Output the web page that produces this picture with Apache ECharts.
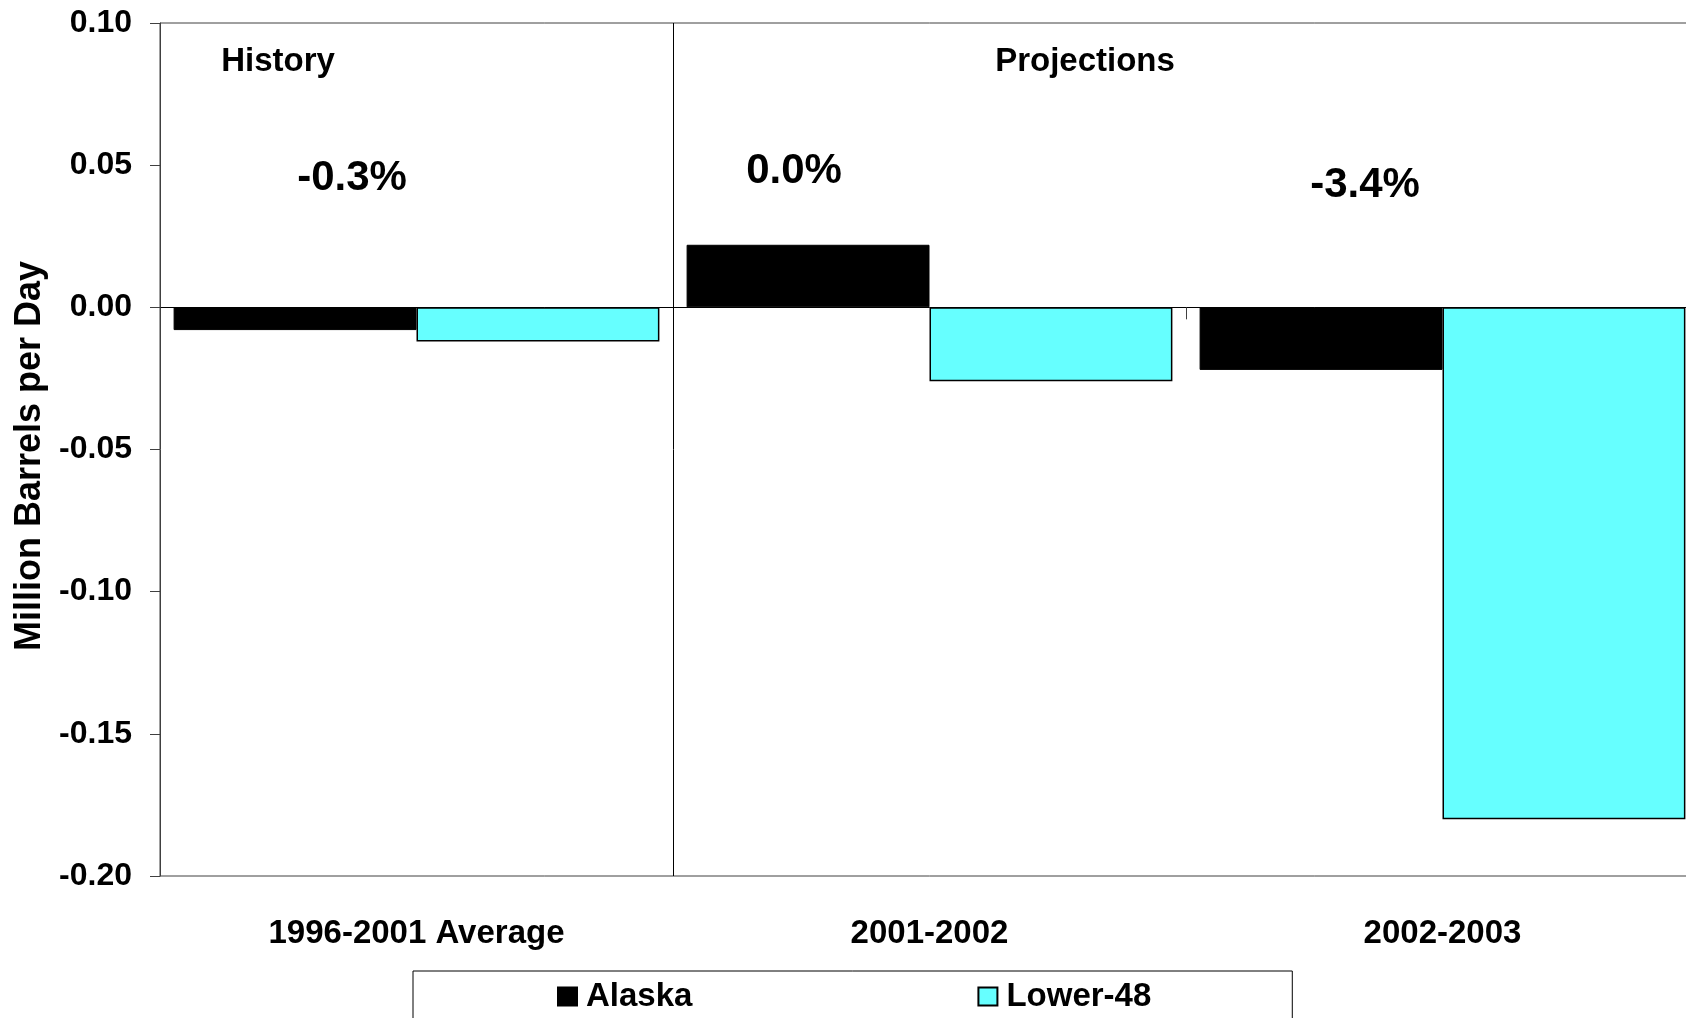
<!DOCTYPE html>
<html>
<head>
<meta charset="utf-8">
<title>Alaska and Lower-48 Crude Oil Production Change</title>
<script src="https://cdn.jsdelivr.net/npm/echarts@6/dist/echarts.min.js"></script>
<style>
  html, body { margin: 0; padding: 0; background: #ffffff; overflow: hidden; }
  /* the plot runs slightly past the right edge of the window */
  #chart { width: 1700px; height: 1018px; }
</style>
</head>
<body>
<div id="chart"></div>
<script>
// Annual change in crude oil production, million barrels per day
var categories = ['1996-2001 Average', '2001-2002', '2002-2003'];
var alaska = [-0.008, 0.022, -0.022];
var lower48 = [-0.012, -0.026, -0.18];
var growthLabels = ['-0.3%', '0.0%', '-3.4%'];
var periodLabels = ['History', 'Projections'];
// boundary between the history period and the projections (in category units)
var periodBreak = 1;

var FONT = "'Liberation Sans', Arial, Helvetica, sans-serif";
var AXIS_COLOR = '#404040';

var chart = echarts.init(document.getElementById('chart'), null, { renderer: 'canvas' });

// Annotation placements (pixel centres)
var growthPos = [[352, 178], [794, 171], [1365, 185]];
var periodPos = [[278, 62], [1085, 62]];

var graphics = [];
growthLabels.forEach(function (t, i) {
  graphics.push({
    type: 'text', x: growthPos[i][0], y: growthPos[i][1], z: 10,
    style: { text: t, font: 'bold 42px ' + FONT, fill: '#000', align: 'center', verticalAlign: 'middle' }
  });
});
periodLabels.forEach(function (t, i) {
  graphics.push({
    type: 'text', x: periodPos[i][0], y: periodPos[i][1], z: 10,
    style: { text: t, font: 'bold 33px ' + FONT, fill: '#000', align: 'center', verticalAlign: 'middle' }
  });
});

var option = {
  backgroundColor: '#ffffff',
  animation: false,
  textStyle: { fontFamily: FONT },
  grid: {
    left: 160, top: 23, width: 1539, height: 853,
    show: true, borderColor: AXIS_COLOR, borderWidth: 1, backgroundColor: 'transparent'
  },
  legend: {
    left: 413, top: 971,
    padding: [9, 141, 40, 144],
    itemGap: 285,
    itemWidth: 19, itemHeight: 18,
    icon: 'rect',
    borderColor: '#000', borderWidth: 1,
    textStyle: { fontFamily: FONT, fontWeight: 'bold', fontSize: 33, color: '#000', padding: [0, 0, 0, 4] },
    data: ['Alaska', 'Lower-48']
  },
  xAxis: [
    {
      // category labels along the bottom
      type: 'category', data: categories, position: 'bottom',
      axisLine: { show: false, onZero: false },
      axisTick: { show: false },
      axisLabel: { margin: 41, fontFamily: FONT, fontWeight: 'bold', fontSize: 33, color: '#000', interval: 0 },
      splitLine: { show: false }
    },
    {
      // zero line with ticks at category boundaries
      type: 'category', data: categories, position: 'bottom',
      axisLine: { show: true, onZero: true, lineStyle: { color: '#000', width: 1 } },
      axisTick: { show: true, inside: false, length: 12, lineStyle: { color: AXIS_COLOR, width: 1 } },
      axisLabel: { show: false },
      splitLine: { show: false }
    },
    {
      // hidden linear axis over the same span, used to place the period divider
      type: 'value', min: 0, max: categories.length, show: false
    }
  ],
  yAxis: {
    type: 'value', min: -0.2, max: 0.1, interval: 0.05,
    name: 'Million Barrels per Day',
    nameLocation: 'middle', nameGap: 110,
    nameTextStyle: { fontFamily: FONT, fontWeight: 'bold', fontSize: 36, color: '#000', padding: [0, 13, 0, 0] },
    axisLine: { show: true, lineStyle: { color: AXIS_COLOR, width: 1 } },
    axisTick: { show: true, inside: false, length: 10, lineStyle: { color: AXIS_COLOR, width: 1 } },
    axisLabel: {
      margin: 28, fontFamily: FONT, fontWeight: 'bold', fontSize: 32, color: '#000',
      formatter: function (v) { return v.toFixed(2); }
    },
    splitLine: { show: false }
  },
  series: [
    {
      name: 'Alaska', type: 'bar', xAxisIndex: 0, data: alaska,
      barGap: '0%', barCategoryGap: '5.3%',
      itemStyle: { color: '#000000', borderColor: '#000', borderWidth: 1 }
    },
    {
      name: 'Lower-48', type: 'bar', xAxisIndex: 0, data: lower48,
      barGap: '0%', barCategoryGap: '5.3%',
      itemStyle: { color: '#66FFFF', borderColor: '#000', borderWidth: 1.5 }
    },
    {
      // History | Projections divider
      name: 'divider', type: 'line', xAxisIndex: 2,
      data: [[periodBreak, 0]], showSymbol: false, symbol: 'none', silent: true,
      lineStyle: { opacity: 0 },
      markLine: {
        silent: true, symbol: ['none', 'none'], label: { show: false },
        lineStyle: { color: '#000', width: 1, type: 'solid' },
        data: [{ xAxis: periodBreak }]
      }
    }
  ],
  graphic: graphics
};

chart.setOption(option);
</script>
</body>
</html>
